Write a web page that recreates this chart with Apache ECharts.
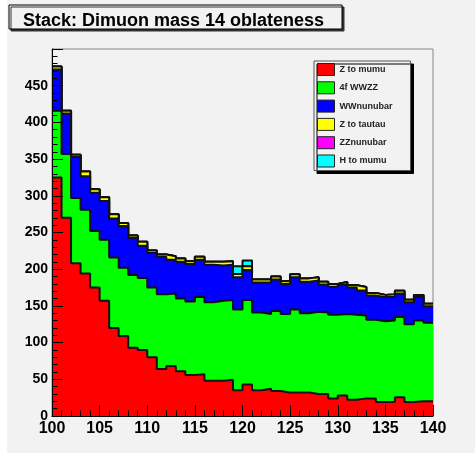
<!DOCTYPE html>
<html>
<head>
<meta charset="utf-8">
<script src="https://cdn.jsdelivr.net/npm/echarts@6/dist/echarts.min.js"></script>
<style>
  html, body { margin: 0; padding: 0; background: #ffffff; }
  #chart { width: 475px; height: 460px; }
</style>
</head>
<body>
<div id="chart"></div>
<script>
// bin lower edges, 1 GeV wide, 100..139
var binStart = 100;
var binEnd = 140;
var seriesNames = ['Z to mumu', '4f WWZZ', 'WWnunubar', 'Z to tautau', 'ZZnunubar', 'H to mumu'];
var seriesColors = ['#ff0000', '#00ff00', '#0000ff', '#ffff00', '#ff00ff', '#00ffff'];

var zToMumu = [325, 270, 208, 194, 175, 157, 120, 109, 93, 90,
	80, 64, 68, 61, 56, 57, 48, 48, 49.5, 35,
	43, 35, 37, 34, 32, 32, 32, 30, 30, 24,
	28, 22, 24, 24, 19, 19.5, 25.5, 19, 20, 20];
var fourfWWZZ = [91, 87, 89, 87, 77, 83, 96, 93, 99, 98,
	95, 102, 99, 99, 100, 105, 107, 109, 108.5, 110,
	115, 106, 102, 109, 107, 113, 108, 112, 111, 114,
	111, 116, 113, 107, 110, 110.5, 109.5, 106, 110, 107];
var wwNunubar = [56, 55, 56, 45.5, 52, 53, 53, 57, 51, 44,
	47, 51, 46, 50, 51, 51, 51, 48, 48, 44,
	41, 41, 43, 43, 41, 44, 43, 42.5, 38, 38,
	40, 37, 34, 33, 33, 32, 32, 30, 32, 22.5];
var zToTautau = [4, 4, 3, 6.5, 5, 5, 6, 4, 3, 5.5,
	3.5, 3, 4.5, 4.5, 4, 4, 4, 5, 4.7, 4.5,
	5, 4, 4, 4, 3.5, 4, 4.5, 4.5, 4, 4,
	3.7, 3.2, 4.7, 3.5, 3, 3.7, 3.7, 3.3, 3, 3.5];
var zzNunubar = [0, 0, 0, 0, 0, 0, 0, 0, 0, 0,
	0, 0, 0, 0, 0, 0, 0, 0, 0, 0,
	0, 0, 0, 0, 0, 0, 0, 0, 0, 0,
	0, 0, 0, 0, 0, 0, 0, 0, 0, 0];
var hToMumu = [0, 0, 0, 0, 0, 0, 0, 0, 0, 0,
	0, 0, 0, 0, 0, 0, 0, 0, 0, 10.5,
	8, 0, 0, 0, 0, 0, 0, 0, 0, 0,
	0, 0, 0, 0, 0, 0, 0, 0, 0, 0];

var allValues = [zToMumu, fourfWWZZ, wwNunubar, zToTautau, zzNunubar, hToMumu];

var font = "'Liberation Sans', Arial, sans-serif";
var padColor = '#f2f2f2';

// THStack style: each layer drawn as cumulative sum, filled down to zero
var cumulative = [];
var running = zToMumu.map(function() { return 0; });
for (var k = 0; k < allValues.length; k++) {
	running = running.map(function(v, i) { return v + allValues[k][i]; });
	cumulative.push(running.slice());
}

// histogram as step line: one point per bin edge, last bin repeated at upper edge
function histPoints(vals) {
	var pts = [];
	for (var i = 0; i < vals.length; i++) {
		pts.push([binStart + i, vals[i]]);
	}
	pts.push([binEnd, vals[vals.length - 1]]);
	return pts;
}

var series = [];
for (var k = 0; k < seriesNames.length; k++) {
	series.push({
		type: 'line',
		name: seriesNames[k],
		step: 'end',
		symbol: 'none',
		showSymbol: false,
		// top of the stack drawn first, lower layers painted over it
		z: 2 + (seriesNames.length - k),
		itemStyle: { color: seriesColors[k] },
		lineStyle: { color: '#111111', width: 2 },
		areaStyle: { color: seriesColors[k], opacity: 1, origin: 'start' },
		data: histPoints(cumulative[k])
	});
}

var chart = echarts.init(document.getElementById('chart'), null, { renderer: 'canvas' });
chart.setOption({
	animation: false,
	backgroundColor: 'transparent',
	graphic: [
		{
			type: 'rect',
			z: -10,
			shape: { x: 7, y: 0, width: 468, height: 453 },
			style: { fill: padColor }
		},
		{
			type: 'rect',
			z: 0,
			shape: { x: 9, y: 5, width: 333, height: 24 },
			style: {
				fill: padColor,
				stroke: '#000000',
				lineWidth: 1,
				shadowColor: '#333333',
				shadowOffsetX: 2,
				shadowOffsetY: 2,
				shadowBlur: 0
			}
		}
	],
	title: {
		text: 'Stack: Dimuon mass 14 oblateness',
		left: 18,
		top: 5,
		z: 5,
		textStyle: {
			fontFamily: font,
			fontSize: 18,
			fontWeight: 'bold',
			color: '#000000',
			lineHeight: 22
		}
	},
	legend: {
		orient: 'vertical',
		left: 314,
		top: 61,
		z: 20,
		padding: [2, 18, 3, 3],
		itemGap: 5.3,
		itemWidth: 17,
		itemHeight: 12,
		icon: 'rect',
		selectedMode: false,
		backgroundColor: padColor,
		borderColor: '#555555',
		borderWidth: 1,
		shadowColor: '#000000',
		shadowOffsetX: 3,
		shadowOffsetY: 3,
		shadowBlur: 0,
		itemStyle: { borderColor: '#222222', borderWidth: 1 },
		textStyle: {
			fontFamily: font,
			fontSize: 9,
			fontWeight: 'bold',
			color: '#222222',
			lineHeight: 12
		},
		data: seriesNames
	},
	grid: {
		left: 52,
		right: 42,
		top: 49,
		bottom: 44,
		show: true,
		backgroundColor: padColor,
		borderColor: '#888888',
		borderWidth: 1
	},
	xAxis: {
		type: 'value',
		min: binStart,
		max: binEnd,
		interval: 5,
		z: 10,
		axisLine: { show: true, onZero: false, lineStyle: { color: '#000000', width: 1 } },
		axisTick: { show: true, inside: true, length: 11, lineStyle: { color: '#000000' } },
		minorTick: { show: true, splitNumber: 5, length: 5.5, lineStyle: { color: '#000000' } },
		splitLine: { show: false },
		axisLabel: {
			margin: 5,
			fontFamily: font,
			fontSize: 16,
			fontWeight: 'bold',
			color: '#000000'
		}
	},
	yAxis: {
		type: 'value',
		min: 0,
		max: 500,
		interval: 50,
		z: 10,
		axisLine: { show: true, lineStyle: { color: '#000000', width: 1 } },
		axisTick: { show: true, inside: true, length: 11, lineStyle: { color: '#000000' } },
		minorTick: { show: true, splitNumber: 5, length: 5.5, lineStyle: { color: '#000000' } },
		splitLine: { show: false },
		axisLabel: {
			margin: 4,
			showMaxLabel: false,
			fontFamily: font,
			fontSize: 14,
			fontWeight: 'bold',
			color: '#000000'
		}
	},
	series: series
});
</script>
</body>
</html>
